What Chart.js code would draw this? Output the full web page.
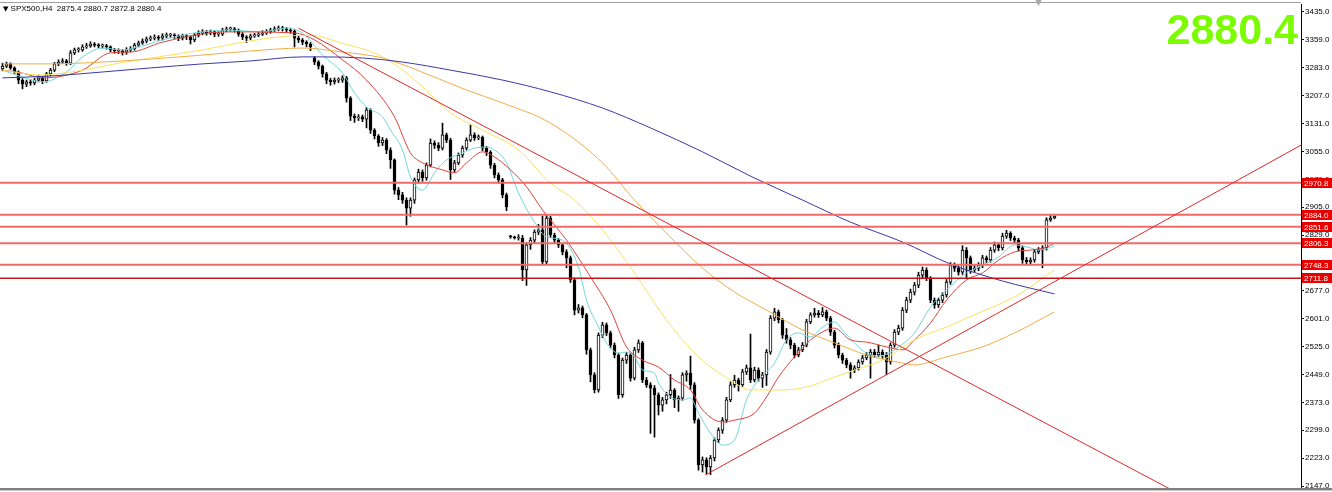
<!DOCTYPE html>
<html><head><meta charset="utf-8">
<script src="https://cdn.jsdelivr.net/npm/chart.js@4.4.1/dist/chart.umd.min.js"></script>
<style>
html,body{margin:0;padding:0;background:#fff;overflow:hidden}
#wrap{position:relative;width:1332px;height:492px}
canvas{display:block}
#title{position:absolute;left:3px;top:3px;font:8px 'Liberation Sans',Arial,sans-serif;line-height:12px;color:#000;white-space:pre}
#title .tri{font:7px 'DejaVu Sans',sans-serif}
#big{position:absolute;right:34px;top:8px;font:bold 43px 'Liberation Sans',Arial,sans-serif;line-height:43px;color:#7cfc00}
#shift{position:absolute;left:1035px;top:-3px;font:9px 'DejaVu Sans',sans-serif;color:#a8a8a8}
</style></head>
<body><div id="wrap"><canvas id="c" width="1332" height="492"></canvas>
<div id="title"><span class="tri">▼</span> SPX500,H4  2875.4 2880.7 2872.8 2880.4</div>
<div id="big">2880.4</div>
<div id="shift">▼</div>
</div>
<script>
// ---- data (SPX500, H4 candles) ----
const open = [3280,3288,3294,3283,3272,3250,3239,3245,3242,3250,
3256,3248,3267,3277,3294,3299,3302,3296,3324,3332,
3332,3340,3343,3348,3345,3343,3343,3340,3332,3329,
3329,3326,3332,3335,3345,3351,3356,3362,3364,3367,
3364,3370,3372,3372,3370,3364,3370,3367,3359,3372,
3378,3381,3378,3381,3375,3375,3386,3389,3389,3386,
3375,3367,3364,3370,3372,3375,3378,3381,3386,3389,
3391,3389,3386,3383,3364,3359,3353,3348,3310,3299,
3288,3267,3250,3245,3250,3250,3256,3201,3152,3147,
3150,3144,3169,3114,3098,3079,3087,3060,3033,2951,
2938,2924,2902,2924,2979,3000,2984,3019,3079,3073,
3065,3101,3087,3006,3025,3046,3065,3087,3101,3093,
3095,3065,3054,3019,2992,2979,2938,2826,2824,2821,
2821,2734,2802,2815,2837,2843,2756,2875,2829,2815,
2802,2783,2767,2707,2625,2631,2612,2517,2449,2408,
2557,2585,2563,2530,2503,2395,2489,2503,2440,2517,
2536,2435,2422,2413,2395,2367,2381,2395,2408,2381,
2386,2449,2454,2422,2326,2204,2218,2199,2223,2272,
2299,2326,2381,2422,2435,2422,2457,2468,2435,2462,
2440,2449,2511,2603,2620,2598,2557,2544,2530,2503,
2517,2530,2593,2612,2617,2612,2620,2603,2565,2530,
2503,2489,2476,2462,2468,2484,2495,2503,2511,2503,
2511,2503,2484,2530,2565,2576,2625,2652,2674,2693,
2720,2734,2712,2652,2639,2652,2666,2701,2747,2739,
2728,2788,2767,2734,2739,2747,2767,2761,2788,2802,
2794,2826,2834,2821,2815,2794,2761,2756,2761,2783,
2788,2794,2870,2875.4];
const close = [3288,3294,3283,3272,3250,3239,3245,3242,3250,3256,
3248,3267,3277,3294,3299,3302,3296,3324,3332,3332,
3340,3343,3348,3345,3343,3343,3340,3332,3329,3329,
3326,3332,3335,3345,3351,3356,3362,3364,3367,3364,
3370,3372,3372,3370,3364,3370,3367,3359,3372,3378,
3381,3378,3381,3375,3375,3386,3389,3389,3386,3375,
3367,3364,3370,3372,3375,3378,3381,3386,3389,3391,
3389,3386,3383,3364,3359,3353,3348,3340,3299,3288,
3267,3250,3245,3250,3250,3256,3201,3152,3147,3150,
3144,3169,3114,3098,3079,3087,3060,3033,2951,2938,
2924,2902,2924,2979,3000,2984,3019,3079,3073,3065,
3101,3087,3006,3025,3046,3065,3087,3101,3093,3095,
3065,3054,3019,2992,2979,2938,2905,2824,2821,2821,
2734,2802,2815,2837,2843,2756,2875,2829,2815,2802,
2783,2767,2707,2625,2631,2612,2517,2449,2408,2557,
2585,2563,2530,2503,2395,2489,2503,2440,2517,2536,
2435,2422,2413,2395,2367,2381,2395,2408,2381,2386,
2449,2454,2422,2326,2204,2218,2199,2223,2272,2299,
2326,2381,2422,2435,2422,2457,2468,2435,2462,2440,
2449,2511,2603,2620,2598,2557,2544,2530,2503,2517,
2530,2593,2612,2617,2612,2620,2603,2565,2530,2503,
2489,2476,2462,2468,2484,2495,2503,2511,2503,2511,
2503,2484,2530,2565,2576,2625,2652,2674,2693,2720,
2734,2712,2652,2639,2652,2666,2701,2747,2739,2728,
2788,2767,2734,2739,2747,2767,2761,2788,2802,2794,
2826,2834,2821,2815,2794,2761,2756,2761,2783,2788,
2794,2870,2875,2880.4];
const high = [3296,3299,3297,3286,3275,3254,3250,3251,3255,3262,
3260,3271,3282,3298,3305,3308,3306,3330,3337,3338,
3346,3350,3354,3352,3349,3348,3347,3343,3336,3335,
3333,3338,3341,3350,3356,3362,3367,3370,3373,3371,
3376,3378,3377,3376,3373,3375,3374,3370,3377,3384,
3387,3385,3386,3384,3381,3391,3394,3394,3393,3389,
3379,3371,3375,3377,3380,3384,3387,3391,3395,3397,
3396,3393,3391,3387,3369,3363,3357,3352,3314,3303,
3291,3271,3255,3256,3256,3262,3260,3205,3158,3156,
3155,3175,3172,3118,3102,3094,3091,3066,3036,2958,
2945,2930,2930,2984,3008,3006,3025,3090,3085,3080,
3133,3106,3092,3032,3052,3071,3093,3128,3107,3101,
3098,3070,3058,3024,2998,2983,2943,2828,2826,2830,
2828,2808,2822,2843,2858,2880,2884,2880,2834,2820,
2806,2789,2772,2712,2640,2636,2616,2522,2455,2563,
2592,2590,2568,2536,2508,2495,2510,2508,2524,2544,
2540,2442,2428,2420,2400,2388,2402,2450,2412,2392,
2455,2460,2500,2428,2330,2226,2224,2230,2278,2305,
2333,2388,2430,2448,2440,2464,2476,2560,2470,2468,
2456,2518,2610,2630,2625,2603,2575,2550,2535,2524,
2537,2600,2618,2630,2624,2632,2625,2608,2570,2536,
2508,2494,2482,2474,2490,2502,2510,2518,2518,2530,
2517,2510,2536,2572,2584,2632,2660,2682,2700,2728,
2742,2740,2716,2658,2658,2672,2708,2754,2753,2745,
2800,2795,2772,2746,2754,2774,2772,2795,2810,2808,
2834,2842,2838,2826,2820,2799,2768,2767,2790,2795,
2800,2876,2882,2880.7];
const low = [3275,3284,3279,3268,3240,3226,3232,3236,3237,3245,
3240,3244,3262,3273,3289,3295,3290,3292,3319,3326,
3328,3336,3339,3340,3338,3337,3334,3327,3323,3322,
3318,3320,3327,3331,3341,3347,3351,3357,3359,3358,
3359,3365,3366,3363,3357,3359,3360,3348,3354,3367,
3373,3372,3373,3368,3369,3371,3381,3383,3380,3369,
3360,3352,3359,3366,3368,3371,3374,3377,3382,3384,
3383,3380,3377,3340,3352,3346,3340,3330,3292,3280,
3258,3240,3236,3239,3243,3244,3190,3140,3135,3140,
3137,3120,3105,3090,3070,3072,3050,3010,2940,2925,
2915,2856,2880,2915,2970,2975,2978,3014,3064,3058,
3060,3080,2980,3000,3020,3040,3060,3083,3086,3088,
3058,3045,3010,2984,2970,2930,2895,2820,2818,2815,
2705,2692,2790,2808,2830,2748,2750,2822,2806,2795,
2775,2740,2700,2612,2617,2604,2505,2430,2400,2402,
2550,2556,2522,2495,2385,2388,2480,2432,2435,2510,
2428,2415,2290,2280,2340,2350,2370,2385,2360,2350,
2380,2432,2410,2318,2190,2185,2180,2178,2215,2265,
2290,2320,2376,2415,2405,2418,2450,2428,2430,2432,
2415,2420,2505,2596,2590,2548,2535,2520,2495,2498,
2512,2525,2588,2606,2605,2607,2596,2556,2522,2495,
2480,2468,2440,2455,2462,2478,2490,2440,2496,2498,
2494,2450,2478,2524,2558,2570,2618,2645,2666,2686,
2712,2705,2645,2630,2632,2645,2660,2695,2730,2720,
2722,2710,2725,2728,2732,2740,2754,2755,2782,2786,
2788,2820,2814,2808,2786,2752,2748,2750,2755,2778,
2740,2788,2866,2872.8];

// moving averages (bar index, price)
const maCyanIdx = [0,5,10,16,20,25,30,33,40,48,56,65,71,75,80,85,88,91,95,97,100,102,105,106,108,111,115,118,121,124,126,129,133,136,140,144,146,149,151,154,156,158,160,163,164,167,170,172,174,177,180,183,186,189,193,196,199,202,205,208,210,213,216,219,224,228,232,236,241,244,249,253,257,259,263];
const maCyanVal = [3277,3258,3245,3272,3313,3337,3332,3337,3359,3378,3386,3381,3391,3378,3318,3269,3215,3177,3150,3114,3060,2987,2951,2960,2998,3033,3052,3065,3068,3052,3025,2943,2864,2824,2815,2742,2652,2579,2536,2508,2511,2498,2462,2454,2427,2389,2381,2386,2345,2291,2258,2272,2381,2435,2481,2544,2563,2552,2579,2593,2571,2536,2508,2500,2525,2563,2633,2680,2726,2742,2769,2802,2794,2788,2799];
const maRedIdx = [0,5,10,20,27,32,40,56,73,78,85,91,98,102,105,110,113,116,120,123,127,131,135,141,147,152,156,160,164,168,172,175,180,183,188,191,194,198,202,206,208,212,216,221,225,228,232,236,241,245,249,253,257,261,263];
const maRedVal = [3277,3269,3256,3277,3324,3326,3353,3381,3378,3359,3305,3250,3150,3052,3025,3006,2998,3025,3055,3041,3006,2960,2897,2815,2715,2625,2525,2489,2470,2435,2408,2354,2321,2326,2345,2389,2443,2498,2544,2571,2576,2544,2538,2525,2517,2544,2590,2652,2707,2726,2761,2783,2788,2796,2807];
const maYellowIdx = [0,9,19,29,39,50,59,69,77,84,95,104,112,120,129,137,143,150,158,166,174,182,187,195,201,208,213,220,228,236,244,253,263];
const maYellowVal = [3277,3264,3275,3296,3313,3332,3351,3367,3372,3353,3313,3242,3161,3114,3060,2970,2924,2843,2726,2598,2498,2435,2408,2408,2416,2443,2462,2489,2544,2579,2617,2661,2734];
const maOrangeIdx = [0,12,25,37,50,62,75,85,95,108,116,125,137,150,158,166,175,183,191,200,208,216,225,228,236,245,253,263];
const maOrangeVal = [3294,3294,3299,3307,3318,3329,3337,3326,3310,3258,3223,3188,3133,3025,2924,2834,2739,2674,2625,2571,2536,2503,2481,2476,2498,2525,2563,2620];
const maBlueIdx = [0,12,25,37,50,62,75,80,90,100,112,125,137,150,162,175,187,200,212,225,237,250,263];
const maBlueVal = [3256,3261,3272,3283,3294,3302,3313,3313,3310,3299,3277,3250,3218,3174,3120,3055,2989,2924,2864,2810,2750,2704,2669];

// drawn objects
const levels = [2970.8, 2884.0, 2851.6, 2806.3, 2748.3, 2711.8];
const trendDownIdx = [74, 295];
const trendDownVal = [3391, 2121];
const trendUpIdx = [175.75, 324.75];
const trendUpVal = [2177, 3074];

const yTicks = [3435,3359,3283,3207,3131,3055,2979,2905,2829,2753,2677,2601,2525,2449,2373,2299,2223,2147];

// ---- build ----
const idx = open.map((_, i) => i);
const pts = (xs, ys) => xs.map((x, k) => ({x: x, y: ys[k]}));
const FONT = '"Liberation Sans", Arial, sans-serif';

const maLine = (xs, ys, color) => ({
  type: 'line', data: pts(xs, ys), borderColor: color, borderWidth: 1,
  pointRadius: 0, fill: false, cubicInterpolationMode: 'monotone', order: -1
});
const straight = (xs, ys, color, w) => ({
  type: 'line', data: pts(xs, ys), borderColor: color, borderWidth: w || 1,
  pointRadius: 0, fill: false, tension: 0, order: -2
});

const datasets = [
  {type: 'bar', data: idx.map(i => ({x: i, y: [open[i], close[i]]})),
   backgroundColor: idx.map(i => close[i] >= open[i] ? '#ffffff' : '#000000'),
   borderColor: '#000', borderWidth: 1, borderSkipped: false, barThickness: 3,
   minBarLength: 1, grouped: false, order: 1},
  {type: 'bar', data: idx.map(i => ({x: i, y: [low[i], high[i]]})),
   backgroundColor: '#000', borderWidth: 0, barThickness: 1, grouped: false, order: 2},
  maLine(maBlueIdx, maBlueVal, '#3a3aa6'),
  maLine(maOrangeIdx, maOrangeVal, '#f2ad45'),
  maLine(maYellowIdx, maYellowVal, '#f9e45a'),
  maLine(maRedIdx, maRedVal, '#e2403a'),
  maLine(maCyanIdx, maCyanVal, '#6fd9d9'),
  straight(trendDownIdx, trendDownVal, '#e02828'),
  straight(trendUpIdx, trendUpVal, '#e02828'),
];
levels.forEach((v, k) => {
  const last = k === levels.length - 1;
  datasets.push(straight([-0.625, 324.625], [v, v], last ? '#c01818' : '#f06a6a', last ? 1.5 : 2));
});

const deco = {
  id: 'deco',
  beforeDraw(ch) {
    const c = ch.ctx; c.save(); c.fillStyle = '#fff'; c.fillRect(0, 0, ch.width, ch.height); c.restore();
  },
  afterDraw(ch) {
    const c = ch.ctx, ys = ch.scales.y, a = ch.chartArea;
    c.save();
    c.fillStyle = '#a0a0a0'; c.fillRect(0, 2, a.right, 1);
    c.fillStyle = '#808080'; c.fillRect(0, a.bottom, ch.width, 2);
    c.fillStyle = '#c8c8c8'; c.fillRect(0, a.bottom + 2, ch.width, 1);
    c.font = '8px ' + FONT; c.textBaseline = 'middle'; c.textAlign = 'left';
    levels.forEach(v => {
      const py = Math.round(ys.getPixelForValue(v));
      c.fillStyle = '#e60000'; c.fillRect(a.right + 1, py - 5, ch.width - a.right - 1, 10);
      c.fillStyle = '#fff'; c.fillText(v.toFixed(1), a.right + 3, py + 0.5);
    });
    c.restore();
  }
};

new Chart(document.getElementById('c'), {
  type: 'bar',
  data: {datasets},
  options: {
    responsive: false, animation: false, devicePixelRatio: 1,
    layout: {padding: {top: 4, bottom: 4, left: 0, right: 0}},
    plugins: {legend: {display: false}, tooltip: {enabled: false}},
    scales: {
      x: {type: 'linear', min: -0.625, max: 324.625, display: false, offset: false},
      y: {type: 'linear', position: 'right', min: 2141.6, max: 3456.7,
          afterBuildTicks: s => { s.ticks = yTicks.map(v => ({value: v})); },
          afterFit: s => { s.width = 31; s.paddingTop = 0; s.paddingBottom = 0; },
          ticks: {font: {family: FONT, size: 8}, color: '#000', padding: 1, autoSkip: false,
                  callback: v => Number(v).toFixed(1)},
          grid: {drawOnChartArea: false, drawTicks: true, tickLength: 3, color: '#000'},
          border: {display: true, color: '#000'}}
    }
  },
  plugins: [deco]
});
</script>
</body></html>
